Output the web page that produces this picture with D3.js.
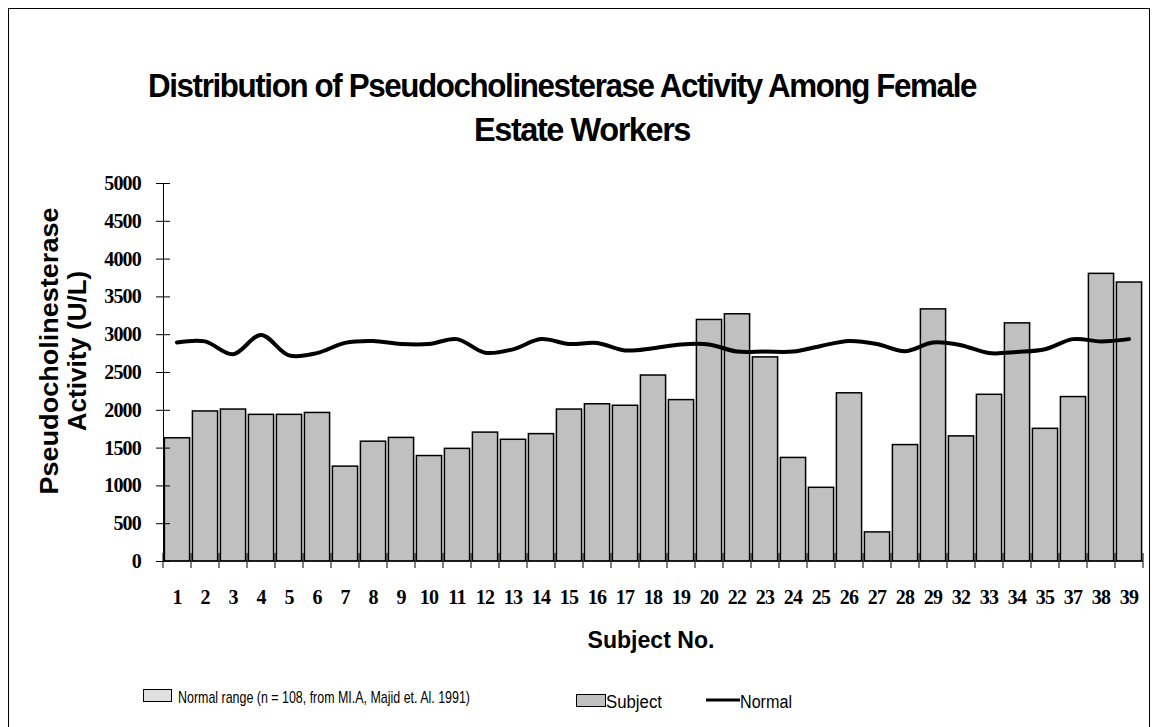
<!DOCTYPE html>
<html>
<head>
<meta charset="utf-8">
<script src="https://cdn.jsdelivr.net/npm/d3@7"></script>
<style>
  body { margin: 0; background: #fff; }
  svg { display: block; }
</style>
</head>
<body>
<div id="chart"></div>
<script>
// subject numbers on the x axis
const subjects = ["1","2","3","4","5","6","7","8","9","10","11","12","13","14","15","16","17","18","19","20",
                  "22","23","24","25","26","27","28","29","32","33","34","35","37","38","39"];
// pseudocholinesterase activity per subject (U/L)
const subjectValues = [1630, 1985, 2010, 1940, 1940, 1965, 1255, 1585, 1635, 1395, 1490, 1705, 1610, 1685, 2010, 2080, 2060, 2460, 2135, 3195,
                       3270, 2700, 1370, 975, 2225, 385, 1540, 3335, 1655, 2205, 3150, 1755, 2175, 3805, 3690];
// normal line
const normalValues = [2890, 2905, 2735, 2990, 2720, 2750, 2885, 2910, 2870, 2870, 2935, 2755, 2800, 2935, 2870, 2885, 2785, 2815, 2865, 2865,
                      2770, 2770, 2770, 2845, 2910, 2870, 2775, 2890, 2855, 2750, 2765, 2800, 2935, 2905, 2935];
const yTicks = [0, 500, 1000, 1500, 2000, 2500, 3000, 3500, 4000, 4500, 5000];

const W = 1155, H = 727;
const plot = {left: 163, right: 1143, top: 183, bottom: 561};

const svg = d3.select("#chart").append("svg")
    .attr("width", W)
    .attr("height", H);

// outer frame
svg.append("rect")
    .attr("x", 8.5).attr("y", 8.5)
    .attr("width", 1141).attr("height", 740)
    .attr("fill", "none")
    .attr("stroke", "#000")
    .attr("stroke-width", 1);

// title
const titleFont = "'Liberation Sans', Arial, sans-serif";
svg.append("text")
    .attr("x", 148).attr("y", 97)
    .attr("textLength", 828).attr("lengthAdjust", "spacingAndGlyphs")
    .attr("font-family", titleFont).attr("font-weight", "bold").attr("font-size", 34)
    .attr("letter-spacing", -1.5)
    .text("Distribution of Pseudocholinesterase Activity Among Female");
svg.append("text")
    .attr("x", 474).attr("y", 141)
    .attr("textLength", 216).attr("lengthAdjust", "spacingAndGlyphs")
    .attr("font-family", titleFont).attr("font-weight", "bold").attr("font-size", 34)
    .attr("letter-spacing", -1.5)
    .text("Estate Workers");

let x = d3.scaleBand()
    .domain(subjects)
    .range([plot.left, plot.right])
    .paddingInner(0.1)
    .paddingOuter(0.05);

let y = d3.scaleLinear()
    .domain([0, 5000])
    .range([plot.bottom, plot.top]);

// bars
svg.selectAll(".bar")
    .data(subjects)
    .enter()
    .append("rect")
    .attr("class", "bar")
    .attr("x", function(d) { return x(d); })
    .attr("y", function(d, i) { return y(subjectValues[i]); })
    .attr("width", x.bandwidth())
    .attr("height", function(d, i) { return y(0) - y(subjectValues[i]); })
    .attr("fill", "#c0c0c0")
    .attr("stroke", "#000")
    .attr("stroke-width", 1.5);

// y axis
let yAxis = svg.append("g")
    .attr("transform", "translate(" + plot.left + ",0)")
    .call(d3.axisLeft(y).tickValues(yTicks).tickFormat(d3.format("d"))
        .tickSize(7).tickPadding(15).tickSizeOuter(0));
yAxis.select(".domain").attr("stroke", "#000");
yAxis.selectAll(".tick line").attr("x1", 7).attr("x2", -7).attr("stroke", "#000");
yAxis.selectAll(".tick text")
    .attr("font-family", "'Liberation Serif', 'Times New Roman', serif")
    .attr("font-weight", "bold")
    .attr("font-size", 20)
    .attr("letter-spacing", -0.8)
    .attr("fill", "#000");

// x axis
let xAxis = svg.append("g")
    .attr("transform", "translate(0," + plot.bottom + ")")
    .call(d3.axisBottom(x).tickSize(0).tickPadding(29));
xAxis.select(".domain").remove();
xAxis.selectAll(".tick text")
    .attr("font-family", "'Liberation Serif', 'Times New Roman', serif")
    .attr("font-weight", "bold")
    .attr("font-size", 20)
    .attr("letter-spacing", -0.8)
    .attr("fill", "#000");

svg.append("line")
    .attr("x1", plot.left).attr("x2", plot.right)
    .attr("y1", plot.bottom).attr("y2", plot.bottom)
    .attr("stroke", "#000");

// category boundary ticks
let step = x.step();
let bounds = subjects.map(function(d) { return x(d) - step * x.paddingInner() / 2; });
bounds.push(bounds[bounds.length - 1] + step);
svg.selectAll(".xtick")
    .data(bounds)
    .enter()
    .append("line")
    .attr("class", "xtick")
    .attr("x1", function(d) { return d; })
    .attr("x2", function(d) { return d; })
    .attr("y1", plot.bottom - 8)
    .attr("y2", plot.bottom + 7)
    .attr("stroke", "#000");

// normal line
let line = d3.line()
    .x(function(d, i) { return x(subjects[i]) + x.bandwidth() / 2; })
    .y(function(d) { return y(d); })
    .curve(d3.curveCatmullRom.alpha(0.5));

svg.append("path")
    .datum(normalValues)
    .attr("d", line)
    .attr("fill", "none")
    .attr("stroke", "#000")
    .attr("stroke-width", 4)
    .attr("stroke-linejoin", "round")
    .attr("stroke-linecap", "round");

// axis titles
svg.append("text")
    .attr("x", 651).attr("y", 648)
    .attr("text-anchor", "middle")
    .attr("textLength", 127).attr("lengthAdjust", "spacingAndGlyphs")
    .attr("font-family", titleFont).attr("font-weight", "bold").attr("font-size", 24)
    .text("Subject No.");

let yTitle = svg.append("g")
    .attr("transform", "translate(0,351) rotate(-90)");
yTitle.append("text")
    .attr("x", 0).attr("y", 58)
    .attr("text-anchor", "middle")
    .attr("textLength", 287).attr("lengthAdjust", "spacingAndGlyphs")
    .attr("font-family", titleFont).attr("font-weight", "bold").attr("font-size", 26)
    .text("Pseudocholinesterase");
yTitle.append("text")
    .attr("x", 0).attr("y", 86)
    .attr("text-anchor", "middle")
    .attr("font-family", titleFont).attr("font-weight", "bold").attr("font-size", 26)
    .text("Activity (U/L)");

// legend
let legendFont = "'Liberation Sans', Arial, sans-serif";
svg.append("rect")
    .attr("x", 143.5).attr("y", 689.5).attr("width", 28).attr("height", 12)
    .attr("fill", "#e0e0e0").attr("stroke", "#000");
svg.append("text")
    .attr("x", 178).attr("y", 703)
    .attr("textLength", 292).attr("lengthAdjust", "spacingAndGlyphs")
    .attr("font-family", legendFont).attr("font-size", 17)
    .text("Normal range (n = 108, from MI.A, Majid et. Al. 1991)");

svg.append("rect")
    .attr("x", 576.5).attr("y", 694.5).attr("width", 29).attr("height", 12)
    .attr("fill", "#c0c0c0").attr("stroke", "#000");
svg.append("text")
    .attr("x", 606).attr("y", 708)
    .attr("textLength", 56).attr("lengthAdjust", "spacingAndGlyphs")
    .attr("font-family", legendFont).attr("font-size", 18)
    .text("Subject");

svg.append("line")
    .attr("x1", 706).attr("x2", 740).attr("y1", 700).attr("y2", 700)
    .attr("stroke", "#000").attr("stroke-width", 3);
svg.append("text")
    .attr("x", 740).attr("y", 708)
    .attr("textLength", 52).attr("lengthAdjust", "spacingAndGlyphs")
    .attr("font-family", legendFont).attr("font-size", 18)
    .text("Normal");
</script>
</body>
</html>
